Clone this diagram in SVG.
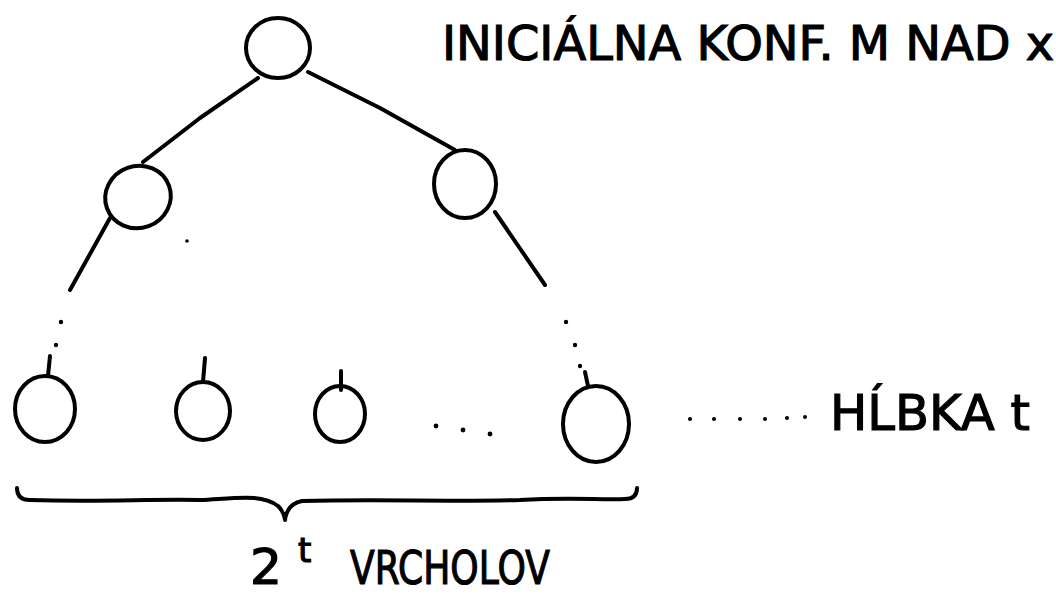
<svg xmlns="http://www.w3.org/2000/svg" width="1056" height="596" viewBox="0 0 1056 596">
<style>
.n{fill:none;stroke:#000;stroke-width:4;}
.e{fill:none;stroke:#000;stroke-width:4;stroke-linecap:round;stroke-linejoin:round;}
.d{fill:#000;}
.t{font-family:"DejaVu Sans","Liberation Sans",sans-serif;fill:#000;stroke:#000;stroke-width:1.2;}
</style>
<rect width="1056" height="596" fill="#fff"/>
<g id="connectors">
<path class="e" d="M258,78 L200,118 L143,162"/>
<path class="e" d="M308,72 L380,108 L455,150"/>
<path class="e" d="M110,218 L70,290"/>
<path class="e" d="M495,212 L545,285"/>
<path class="e" d="M48,376 L50,356"/>
<path class="e" d="M203,382 L205,358"/>
<path class="e" d="M341,390 L341,371"/>
<path class="e" d="M588,386 L585,372"/>
</g>
<g id="root"><ellipse class="n" cx="278" cy="48" rx="32" ry="30"/></g>
<g id="left"><ellipse class="n" cx="138" cy="197" rx="33" ry="31" transform="rotate(-20 138 197)"/></g>
<g id="right"><ellipse class="n" cx="465" cy="184" rx="31" ry="34"/></g>
<g id="leaf1"><ellipse class="n" cx="45" cy="409" rx="30" ry="33"/></g>
<g id="leaf2"><ellipse class="n" cx="203" cy="411" rx="27" ry="29"/></g>
<g id="leaf3"><ellipse class="n" cx="340" cy="414" rx="25" ry="28"/></g>
<g id="leaf4"><ellipse class="n" cx="596" cy="424" rx="33" ry="38"/></g>
<g id="dots">
<circle class="d" cx="61" cy="322" r="2.2"/>
<circle class="d" cx="56" cy="345" r="2.2"/>
<circle class="d" cx="187" cy="241" r="1.8"/>
<circle class="d" cx="566" cy="322" r="2.2"/>
<circle class="d" cx="575" cy="345" r="2.2"/>
<circle class="d" cx="580" cy="366" r="2.2"/>
<circle class="d" cx="436" cy="426" r="2.4"/>
<circle class="d" cx="463" cy="430" r="2.4"/>
<circle class="d" cx="490" cy="434" r="2.4"/>
<circle class="d" cx="690" cy="419" r="2"/>
<circle class="d" cx="714" cy="419" r="2"/>
<circle class="d" cx="740" cy="419" r="2"/>
<circle class="d" cx="765" cy="419" r="2"/>
<circle class="d" cx="787" cy="418" r="2"/>
<circle class="d" cx="805" cy="417" r="2"/>
</g>
<g id="brace">
<path class="e" d="M17,488 Q17,500 30,500 C100,502 150,499 200,500 C240,498 262,494 278,506 Q284,512 285,520 Q287,504 302,501 C380,499 450,502 520,500 C570,497 600,500 625,499 Q637,499 637,488"/>
</g>
<g id="labels">
<text class="t" x="442" y="60" font-size="48" textLength="612" lengthAdjust="spacingAndGlyphs">INICIÁLNA KONF. M NAD x</text>
<text class="t" x="830" y="430" font-size="50" textLength="200" lengthAdjust="spacingAndGlyphs">HĹBKA t</text>
<text class="t" x="250" y="584" font-size="50" textLength="32" lengthAdjust="spacingAndGlyphs">2</text>
<text class="t" x="298" y="562" font-size="34">t</text>
<text class="t" x="350" y="584" font-size="46" textLength="200" lengthAdjust="spacingAndGlyphs">VRCHOLOV</text>
</g>
</svg>
